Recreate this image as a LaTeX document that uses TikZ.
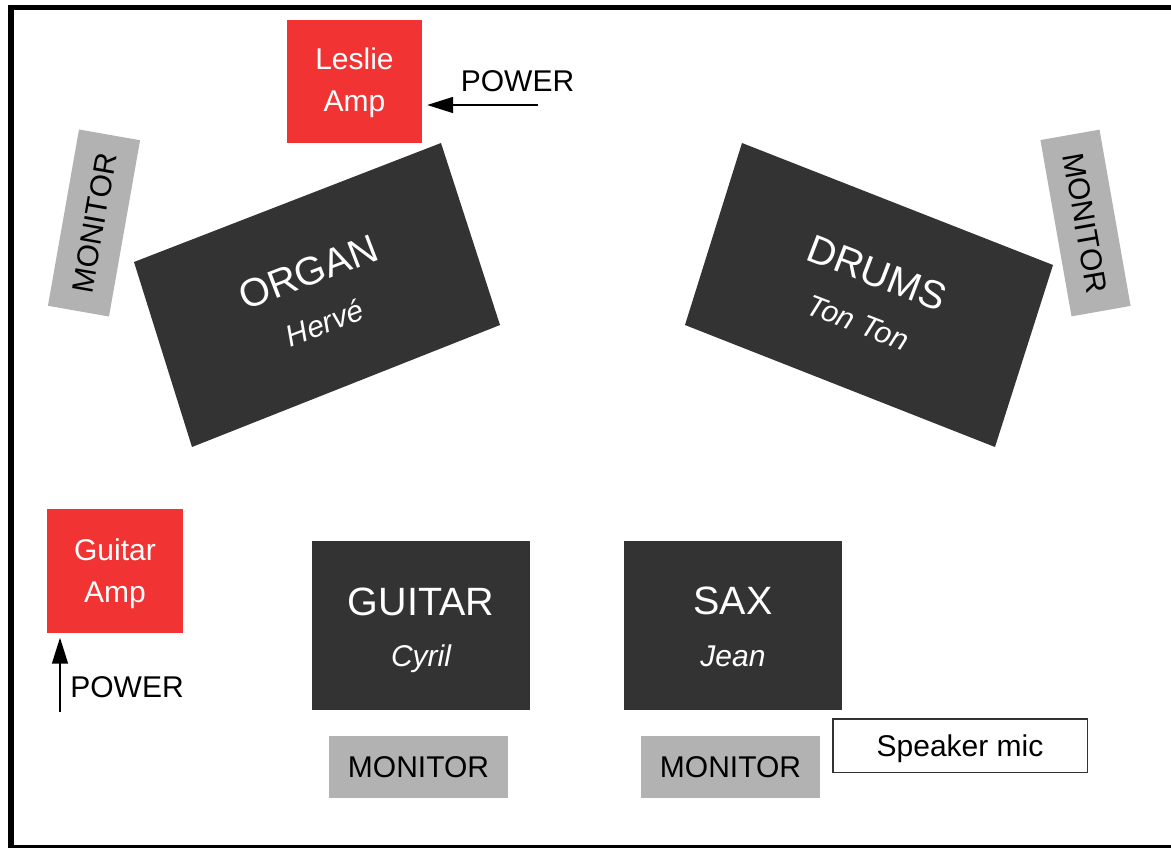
\documentclass[tikz,border=0pt]{standalone}
\usepackage{fontspec}
\setmainfont{Liberation Sans}
\usetikzlibrary{arrows.meta,calc}
\definecolor{ampred}{RGB}{242,51,51}
\definecolor{stagedark}{RGB}{51,51,51}
\definecolor{mongray}{RGB}{178,178,178}
\newcommand\sgTitle{\fontsize{39.5}{43}\selectfont}
\newcommand\sgName{\fontsize{30}{33}\selectfont\itshape}
\newcommand\sgLbl{\fontsize{30}{33}\selectfont}
\begin{document}
\begin{tikzpicture}[x=1pt,y=1pt,
  amp/.style={fill=ampred, inner sep=0pt},
  darkbox/.style={fill=stagedark, inner sep=0pt},
  monbox/.style={fill=mongray, inner sep=0pt, minimum width=179pt, minimum height=62pt,
    font=\sgLbl, text height=21.5pt, text depth=0pt},
  lbl/.style={font=\sgLbl, inner sep=0pt},
  ttl/.style={font=\sgTitle, text=white, inner sep=0pt},
  nm/.style={font=\sgName, text=white, inner sep=0pt},
  pwarrow/.style={line width=1.5pt, -{Triangle[length=26pt,width=16pt]}, shorten >=5pt}]
\useasboundingbox (0,0) rectangle (1171,-848);
\clip (0,0) rectangle (1171,-848);
\fill[white] (0,0) rectangle (1171,-848);
\draw[line width=5.5pt] (11,-7.5) rectangle (1175,-847.5);

% Leslie amp
\node[amp, minimum width=135pt, minimum height=123pt] (leslie) at (354.5,-81.5) {};
\node[lbl, text=white, anchor=base] (leslieA) at (354.5,-70) {Leslie};
\node[lbl, text=white, anchor=base] (leslieB) at (354.5,-112) {Amp};
\node[lbl, anchor=base] (pow1) at (517.5,-92) {POWER};
\coordinate (pw1) at (538,-105);
\draw[pwarrow] (pw1) -- (pw1 -| leslie.east);

% side monitors
\node[monbox, rotate=80] (monL) at (94,-223) {MONITOR};
\node[monbox, rotate=-80, minimum height=60pt] (monR) at (1085.5,-223) {MONITOR};

% Organ
\coordinate (o1) at (441,-143);
\coordinate (o2) at (500,-325);
\coordinate (o3) at (192,-447);
\coordinate (o4) at (134,-262);
\fill[stagedark] (o1) -- (o2) -- (o3) -- (o4) -- cycle;
\begin{scope}[shift={(316.75,-294.25)}, rotate=21]
\node[ttl, anchor=base, transform shape] (organT) at (0,10) {ORGAN};
\node[nm, anchor=base, transform shape] (organN) at (-3,-40) {Hervé};
\end{scope}

% Drums
\coordinate (d1) at (742,-143);
\coordinate (d2) at (1053,-265);
\coordinate (d3) at (995,-447);
\coordinate (d4) at (685,-325);
\fill[stagedark] (d1) -- (d2) -- (d3) -- (d4) -- cycle;
\begin{scope}[shift={(868.75,-295)}, rotate=-21]
\node[ttl, anchor=base, transform shape] (drumsT) at (0,10) {DRUMS};
\node[nm, anchor=base, transform shape] (drumsN) at (0,-40) {Ton Ton};
\end{scope}

% Guitar amp
\node[amp, minimum width=136pt, minimum height=123.5pt] (gamp) at (115,-570.75) {};
\node[lbl, text=white, anchor=base] (gampA) at (115,-560) {Guitar};
\node[lbl, text=white, anchor=base] (gampB) at (115,-602) {Amp};
\node[lbl, anchor=base] (pow2) at (127,-697) {POWER};
\coordinate (pw2) at (60,-712);
\draw[pwarrow] (pw2) -- (pw2 |- gamp.south);

% Guitar
\node[darkbox, minimum width=218pt, minimum height=169pt] (guitar) at (421,-625.5) {};
\node[ttl, anchor=base] (guitarT) at (421,-615.5) {GUITAR};
\node[nm, anchor=base] (guitarN) at (421,-666) {Cyril};

% Sax
\node[darkbox, minimum width=218pt, minimum height=169pt] (sax) at (733,-625.5) {};
\node[ttl, anchor=base] (saxT) at (733,-614.5) {SAX};
\node[nm, anchor=base] (saxN) at (733,-666.5) {Jean};

% bottom monitors
\node[monbox] (monG) at (418.5,-767) {MONITOR};
\node[monbox] (monS) at (730.5,-767) {MONITOR};

% speaker mic
\node[draw=black!80, line width=1.5pt, minimum width=254.5pt, minimum height=53.5pt,
  font=\sgLbl, text height=21.5pt, text depth=0pt, inner sep=0pt] (mic) at (960,-745.5) {Speaker mic};
\end{tikzpicture}
\end{document}
